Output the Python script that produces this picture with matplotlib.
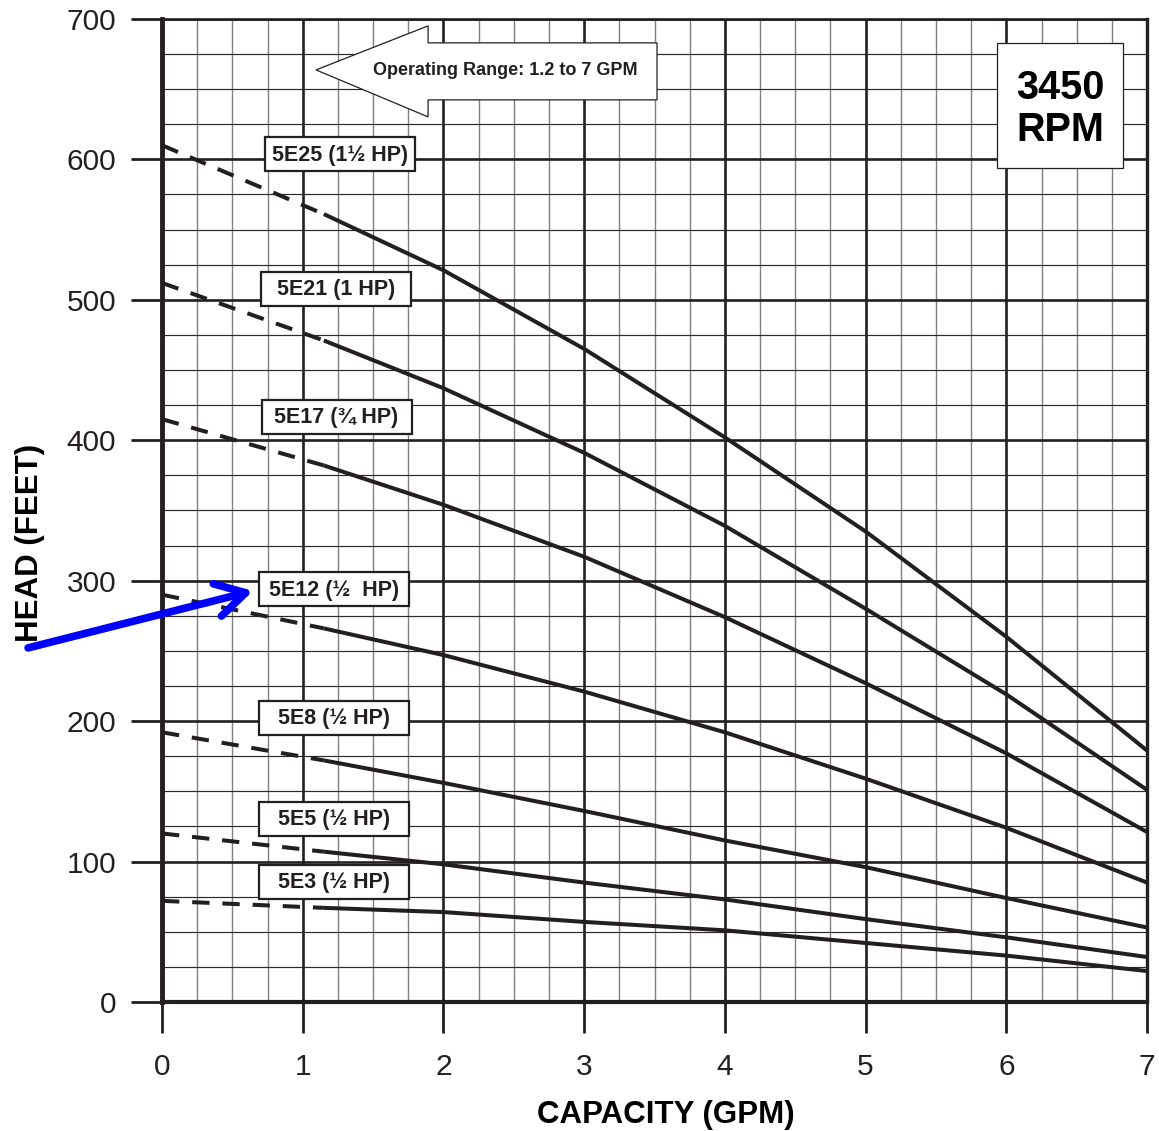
import matplotlib
matplotlib.use("Agg")
import matplotlib.pyplot as plt
from matplotlib.ticker import MultipleLocator
from matplotlib.patches import Rectangle, Polygon

plt.rcParams['font.family'] = ['Liberation Sans', 'DejaVu Sans']

INK = '#231f20'

# ---- data ----
gpm = [0, 1.15, 2, 3, 4, 5, 6, 7]
models = ['5E25', '5E21', '5E17', '5E12', '5E8', '5E5', '5E3']
labels = ['5E25 (1½ HP)', '5E21 (1 HP)', '5E17 (¾ HP)', '5E12 (½  HP)',
          '5E8 (½ HP)', '5E5 (½ HP)', '5E3 (½ HP)']
head_5E25 = [610, 561, 521, 465, 402, 335, 260, 179]
head_5E21 = [512, 471, 437, 391, 339, 280, 219, 151]
head_5E17 = [415, 382, 354, 317, 274, 227, 177, 121]
head_5E12 = [290, 266, 247, 221, 192, 159, 124, 85]
head_5E8 = [192, 172, 156, 136, 115, 96, 74, 53]
head_5E5 = [120, 107, 98, 85, 73, 59, 46, 32]
head_5E3 = [72, 67, 64, 57, 51, 42, 33, 22]
heads = [head_5E25, head_5E21, head_5E17, head_5E12, head_5E8, head_5E5, head_5E3]

# label box centres (x in GPM, y in feet)
label_x = [1.262, 1.237, 1.240, 1.222, 1.222, 1.222, 1.222]
label_y = [603.5, 507.7, 416.6, 293.7, 202.2, 130.3, 85.5]

x_ticks = [0, 1, 2, 3, 4, 5, 6, 7]
y_ticks = [0, 100, 200, 300, 400, 500, 600, 700]

fig = plt.figure(figsize=(11.59, 11.31), dpi=100)
ax = fig.add_axes([0.1398, 0.1141, 0.8499, 0.8692])
ax.set_xlim(0, 7)
ax.set_ylim(0, 700)

ax.set_xticks(x_ticks)
ax.set_yticks(y_ticks)
ax.xaxis.set_minor_locator(MultipleLocator(0.25))
ax.yaxis.set_minor_locator(MultipleLocator(25))
ax.tick_params(which='major', direction='out', length=22, width=2, color=INK,
               labelsize=21.5, labelcolor=INK)
ax.tick_params(axis='x', which='major', pad=15)
ax.tick_params(axis='y', which='major', pad=11)
ax.tick_params(which='minor', length=0)

ax.grid(which='major', color=INK, lw=1.9)
ax.grid(which='minor', axis='x', color='#808080', lw=1.0)
ax.grid(which='minor', axis='y', color='#2a2a2a', lw=0.85)

for side, lw in [('left', 3.5), ('bottom', 3.0), ('right', 2.4), ('top', 1.9)]:
    ax.spines[side].set_linewidth(lw)
    ax.spines[side].set_color(INK)

# ---- curves ----
for h in heads:
    ax.plot(gpm[:2], h[:2], color=INK, lw=2.9, dashes=(4.3, 3.2),
            solid_capstyle='butt', dash_capstyle='butt', zorder=3)
    ax.plot(gpm[1:], h[1:], color=INK, lw=2.9, solid_capstyle='butt', zorder=3)

# ---- model label boxes ----
bw, bh = 1.066, 24.2
for lab, cx, cy in zip(labels, label_x, label_y):
    ax.add_patch(Rectangle((cx - bw / 2, cy - bh / 2), bw, bh, facecolor='white',
                           edgecolor=INK, lw=1.6, zorder=5))
    ax.text(cx, cy - 0.5, lab, ha='center', va='center', fontsize=15.5,
            fontweight='bold', color=INK, zorder=6)

# ---- operating range arrow ----
arrow_pts = [(0.1563, 0.9481), (0.2701, 0.9929), (0.2701, 0.9756), (0.5025, 0.9756),
             (0.5025, 0.9176), (0.2701, 0.9176), (0.2701, 0.9003)]
ax.add_patch(Polygon(arrow_pts, closed=True, facecolor='white', edgecolor=INK,
                     lw=0.9, transform=ax.transAxes, zorder=5))
ax.text(0.3487, 0.9475, 'Operating Range: 1.2 to 7 GPM', transform=ax.transAxes,
        ha='center', va='center', fontsize=13, fontweight='bold', color=INK, zorder=6)

# ---- RPM box ----
ax.add_patch(Rectangle((0.8477, 0.8484), 0.1279, 0.1272, facecolor='white',
                       edgecolor=INK, lw=0.9, transform=ax.transAxes, zorder=5))
ax.text(0.9117, 0.9085, '3450\nRPM', transform=ax.transAxes, ha='center',
        va='center', fontsize=28.5, fontweight='bold', color='black',
        linespacing=1.15, zorder=6)

# ---- axis titles ----
ax.text(0.5117, -0.1145, 'CAPACITY (GPM)', transform=ax.transAxes, ha='center',
        va='center', fontsize=22.5, fontweight='bold', color='black', clip_on=False)
ax.text(-0.1340, 0.467, 'HEAD (FEET)', transform=ax.transAxes, ha='center',
        va='center', rotation=90, fontsize=22.5, fontweight='bold', color='black',
        clip_on=False)

# ---- blue pointer ----
ax.annotate('', xy=(0.647, 292.7), xytext=(-0.952, 252.1),
            xycoords='data', textcoords='data', annotation_clip=False,
            arrowprops=dict(arrowstyle='->,head_length=1.05,head_width=0.6',
                            color='#0000ff', lw=5.5, mutation_scale=20,
                            shrinkA=0, shrinkB=0),
            zorder=10)

fig.savefig('out.png', dpi=100)
